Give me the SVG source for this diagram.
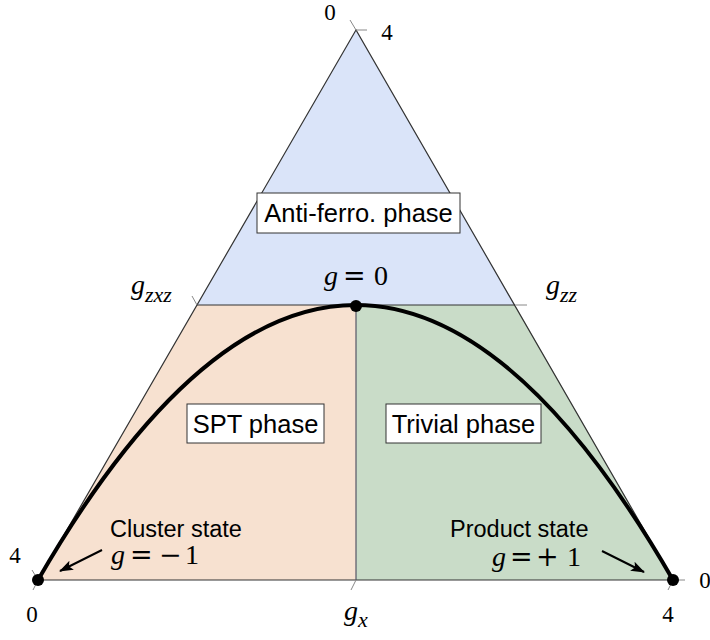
<svg xmlns="http://www.w3.org/2000/svg" width="710" height="640" viewBox="0 0 710 640">
<style>
.edge{stroke:#333;stroke-width:1.2;fill:none}
.tick{stroke:#888;stroke-width:1}
.num{font-family:"Liberation Serif",serif;font-size:23px;fill:#000}
.math{font-family:"Liberation Serif",serif;font-size:28px;fill:#000}
.mi{font-style:italic}
.op{font-family:"DejaVu Serif",serif;font-size:27px}
.sub{font-family:"Liberation Serif",serif;font-style:italic;font-size:22px}
.lbl{font-family:"Liberation Sans",Arial,sans-serif;font-size:25.5px;fill:#000}
.st{font-family:"Liberation Sans",Arial,sans-serif;font-size:23.5px;fill:#000}
.box{fill:#fff;stroke:#333;stroke-width:1}
</style>
<defs>
<marker id="ah" markerWidth="14" markerHeight="10" refX="13" refY="5" orient="auto" markerUnits="userSpaceOnUse" viewBox="0 0 14 10">
<path d="M0,0 L14,5 L0,10 L3,5 Z" fill="#000"/>
</marker>
</defs>
<g id="regions">
<polygon points="356,30 197,305 515,305" fill="#dae4f9"/>
<polygon points="197,305 356,305 356,580 38,580" fill="#f7e1d0"/>
<polygon points="356,305 515,305 673,580 356,580" fill="#c9dcc8"/>
</g>
<g id="connectors">
<polygon class="edge" points="356,30 38,580 673,580"/>
<line class="edge" x1="197" y1="305" x2="515" y2="305"/>
<line x1="356" y1="305" x2="356" y2="580" stroke="#556" stroke-width="1.2"/>
<path d="M38,580 Q356,30 673,580" fill="none" stroke="#000" stroke-width="4"/>
<line class="tick" x1="356" y1="30" x2="350" y2="20"/>
<line class="tick" x1="356" y1="30" x2="367" y2="30"/>
<line class="tick" x1="38" y1="580" x2="32" y2="570"/>
<line class="tick" x1="38" y1="580" x2="33" y2="590"/>
<line class="tick" x1="673" y1="580" x2="685" y2="580"/>
<line class="tick" x1="673" y1="580" x2="668" y2="590"/>
<line class="tick" x1="197" y1="305" x2="192" y2="296"/>
<line class="tick" x1="515" y1="305" x2="527" y2="305"/>
<line class="tick" x1="356" y1="580" x2="351" y2="590"/>
<line x1="102" y1="550" x2="60" y2="571" stroke="#000" stroke-width="2" marker-end="url(#ah)"/>
<line x1="602" y1="551" x2="644" y2="572" stroke="#000" stroke-width="2" marker-end="url(#ah)"/>
</g>
<g id="points">
<circle cx="38" cy="580" r="6"/>
<circle cx="356" cy="306" r="6"/>
<circle cx="673" cy="580" r="6"/>
</g>
<g id="axis-labels">
<text class="num" x="330" y="20" text-anchor="middle">0</text>
<text class="num" x="387" y="40" text-anchor="middle">4</text>
<text class="num" x="15" y="563" text-anchor="middle">4</text>
<text class="num" x="32" y="622" text-anchor="middle">0</text>
<text class="num" x="705" y="588" text-anchor="middle">0</text>
<text class="num" x="668" y="622" text-anchor="middle">4</text>
<text class="math" x="131" y="294" font-size="33"><tspan class="mi">g</tspan><tspan class="sub" dy="8">zxz</tspan></text>
<text class="math" x="546" y="294" font-size="33"><tspan class="mi">g</tspan><tspan class="sub" dy="8">zz</tspan></text>
<text class="math" x="344" y="620" font-size="33"><tspan class="mi">g</tspan><tspan class="sub" dy="7">x</tspan></text>
</g>
<g id="node-g0">
<text class="math" y="285"><tspan class="mi" x="324">g</tspan><tspan class="op" x="343">=</tspan><tspan x="374">0</tspan></text>
</g>
<g id="node-antiferro">
<rect class="box" x="257" y="193" width="203" height="40"/>
<text class="lbl" x="358.5" y="222" text-anchor="middle">Anti-ferro. phase</text>
</g>
<g id="node-spt">
<rect class="box" x="187" y="404" width="137" height="39"/>
<text class="lbl" x="255.5" y="433" text-anchor="middle">SPT phase</text>
</g>
<g id="node-trivial">
<rect class="box" x="386" y="404" width="155" height="39"/>
<text class="lbl" x="463.5" y="433" text-anchor="middle">Trivial phase</text>
</g>
<g id="node-cluster">
<text class="st" x="110" y="537">Cluster state</text>
<text class="math" y="564"><tspan class="mi" x="111">g</tspan><tspan class="op" x="130">=</tspan><tspan class="op" x="159">−</tspan><tspan x="185">1</tspan></text>
</g>
<g id="node-product">
<text class="st" x="450" y="537">Product state</text>
<text class="math" y="566"><tspan class="mi" x="492">g</tspan><tspan class="op" x="510">=</tspan><tspan class="op" x="536">+</tspan><tspan x="567">1</tspan></text>
</g>
</svg>
